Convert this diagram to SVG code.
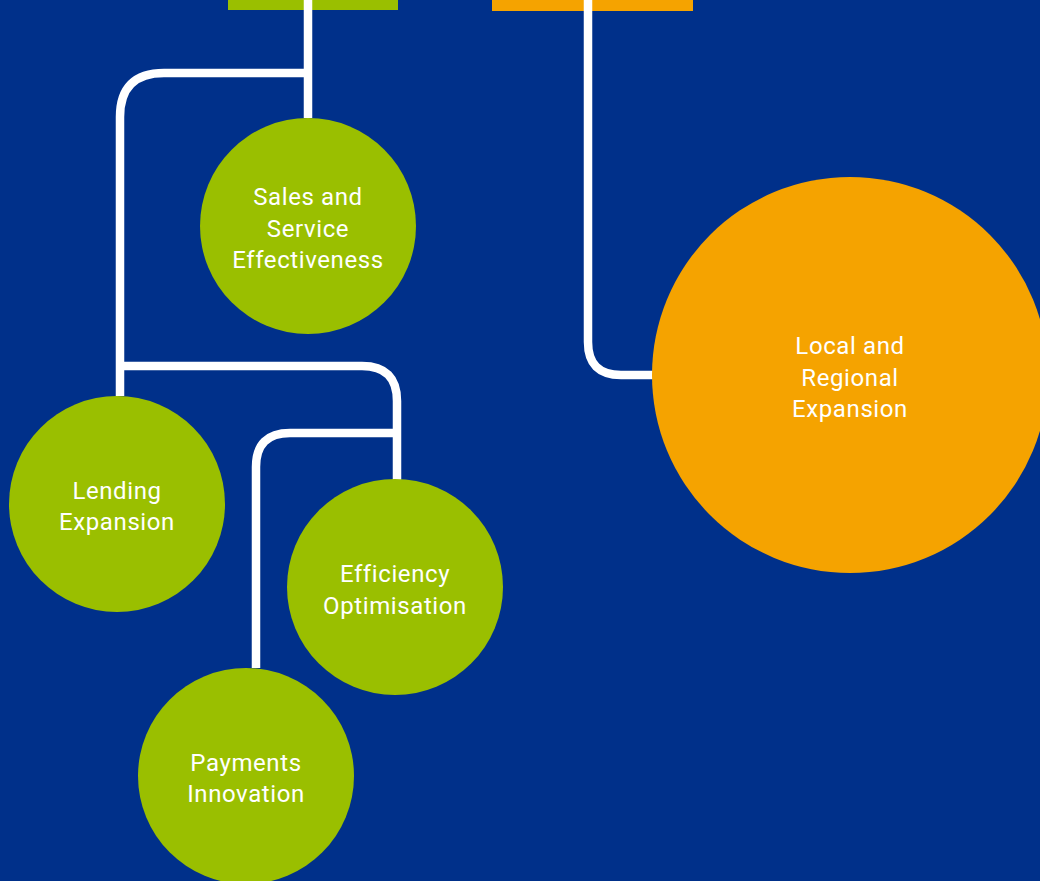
<svg xmlns="http://www.w3.org/2000/svg" width="1040" height="881" viewBox="0 0 1040 881">
  <style>
    .bg { fill: #00308A; }
    .green { fill: #9ABF00; }
    .orange { fill: #F5A300; }
    .link { fill: none; stroke: #FFFFFF; stroke-width: 8.5; }
    .label { font-family: Roboto, "Liberation Sans", sans-serif; font-size: 24px; fill: #FFFFFF; text-anchor: middle; letter-spacing: 0.6px; }
  </style>
  <rect class="bg" x="0" y="0" width="1040" height="881"/>

  <!-- category headers (top edge) -->
  <g id="header-green"><rect class="green" x="228" y="-30" width="170" height="40"/></g>
  <g id="header-orange"><rect class="orange" x="492" y="-30" width="201" height="41"/></g>

  <!-- connectors -->
  <g id="connectors">
    <path class="link" d="M308 0 V118"/>
    <path class="link" d="M308 73 H164 Q120 73 120 117 V396"/>
    <path class="link" d="M120 366 H362 Q397 366 397 401 V480"/>
    <path class="link" d="M397 433 H290 Q256 433 256 467 V668"/>
    <path class="link" d="M588 0 V342 Q588 375 621 375 H653"/>
  </g>

  <g id="node-sales">
    <circle class="green" cx="308" cy="226" r="108"/>
    <text class="label" x="308" y="205">Sales and</text>
    <text class="label" x="308" y="237">Service</text>
    <text class="label" x="308" y="268">Effectiveness</text>
  </g>
  <g id="node-lending">
    <circle class="green" cx="117" cy="504" r="108"/>
    <text class="label" x="117" y="499">Lending</text>
    <text class="label" x="117" y="530">Expansion</text>
  </g>
  <g id="node-efficiency">
    <circle class="green" cx="395" cy="587" r="108"/>
    <text class="label" x="395" y="582">Efficiency</text>
    <text class="label" x="395" y="614">Optimisation</text>
  </g>
  <g id="node-payments">
    <circle class="green" cx="246" cy="776" r="108"/>
    <text class="label" x="246" y="771">Payments</text>
    <text class="label" x="246" y="802">Innovation</text>
  </g>
  <g id="node-local">
    <circle class="orange" cx="850" cy="375" r="198"/>
    <text class="label" x="850" y="354">Local and</text>
    <text class="label" x="850" y="386">Regional</text>
    <text class="label" x="850" y="417">Expansion</text>
  </g>
</svg>
